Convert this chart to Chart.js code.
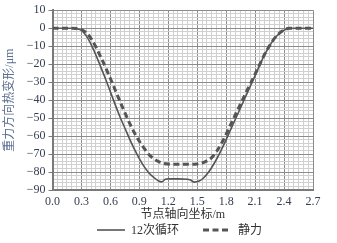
<!DOCTYPE html>
<html><head><meta charset="utf-8">
<script src="https://cdn.jsdelivr.net/npm/chart.js@4"></script>
<style>html,body{margin:0;padding:0;background:#fff}#wrap{width:337px;height:243px}</style>
</head><body><div id="wrap"><canvas id="c" width="337" height="243"></canvas></div>
<script>
const seriesNames = ['12次循环', '静力'];
const cycleX = [0,0.1,0.2,0.25,0.3,0.35,0.4,0.45,0.5,0.55,0.6,0.65,0.7,0.75,0.8,0.85,0.9,0.95,1.0,1.05,1.1,1.13,1.17,1.2,1.3,1.4,1.43,1.47,1.52,1.56,1.6,1.65,1.7,1.75,1.8,1.85,1.9,1.95,2.0,2.05,2.1,2.15,2.2,2.25,2.3,2.35,2.4,2.45,2.5,2.6,2.7];
const cycleY = [0,0,0,-0.3,-1.2,-4.3,-9,-15,-21.5,-28.3,-35.4,-42.5,-49.4,-55.5,-61.7,-67.4,-72.5,-77,-80.5,-83,-85,-85.5,-84,-83.8,-83.8,-84,-84.5,-85.6,-85,-83.6,-81.3,-77.5,-72.9,-67.7,-62,-56,-50.1,-44.2,-38.2,-32.3,-26.3,-20.3,-14.6,-9.9,-5.8,-3.0,-1.1,-0.2,0,0,0];
const staticX = [0,0.1,0.2,0.25,0.3,0.35,0.4,0.45,0.5,0.55,0.6,0.65,0.7,0.75,0.8,0.85,0.9,0.95,1.0,1.05,1.1,1.15,1.2,1.3,1.4,1.5,1.55,1.6,1.65,1.7,1.75,1.8,1.85,1.9,1.95,2.0,2.05,2.1,2.15,2.2,2.25,2.3,2.35,2.4,2.45,2.5,2.6,2.7];
const staticY = [0,0,0,-0.2,-0.8,-2.5,-5.8,-10.5,-16,-21.8,-28,-34.4,-40.8,-47,-52.9,-58.3,-62.9,-66.8,-70.3,-72.6,-74.2,-75.2,-75.6,-75.7,-75.7,-75.5,-75.0,-73.8,-72.0,-68.6,-64.2,-59.0,-53.2,-47.6,-42.0,-36.4,-31.0,-25.5,-19.9,-14.4,-9.7,-5.7,-2.9,-1.0,-0.1,0,0,0];
const xTickLabels = ['0.0','0.3','0.6','0.9','1.2','1.5','1.8','2.1','2.4','2.7'];
const yTickLabels = ['10','0','−10','−20','−30','−40','−50','−60','−70','−80','−90'];
const xTitle = '节点轴向坐标/m';
const yTitle = '重力方向热变形/μm';

const serif = "'Liberation Serif','Noto Sans CJK SC',serif";
const tickColor = '#353d50';
const majorGrid = '#8c8c8c', minorGrid = '#d0d0d0';

const pts = (xs, ys) => xs.map((x, i) => ({x, y: ys[i]}));
const xMin = 0, xMax = 2.7, yMin = -90, yMax = 10;
const isMajorX = v => Math.abs(Math.round(v * 100) % 30) === 0;
const isMajorY = v => Math.round(v) % 10 === 0;

const legendPlugin = {
  id: 'bottomLegend',
  afterDraw(chart) {
    const ctx = chart.ctx;
    const y = 230;
    const items = [{x0: 97, x1: 125, tx: 131}, {x0: 203, x1: 230, tx: 238}];
    chart.data.datasets.forEach((ds, i) => {
      const it = items[i];
      ctx.save();
      ctx.strokeStyle = ds.borderColor;
      ctx.lineWidth = ds.borderWidth;
      ctx.setLineDash(ds.borderDash || []);
      ctx.beginPath(); ctx.moveTo(it.x0, y); ctx.lineTo(it.x1, y); ctx.stroke();
      ctx.setLineDash([]);
      ctx.fillStyle = '#333';
      ctx.font = '12px ' + serif;
      ctx.textBaseline = 'middle';
      ctx.fillText(ds.label, it.tx, y + 1);
      ctx.restore();
    });
  }
};

new Chart(document.getElementById('c'), {
  type: 'line',
  data: {
    datasets: [
      {label: seriesNames[0], data: pts(cycleX, cycleY), borderColor: '#555', borderWidth: 1.6, pointRadius: 0, cubicInterpolationMode: 'monotone', fill: false},
      {label: seriesNames[1], data: pts(staticX, staticY), borderColor: '#555', borderWidth: 3, borderDash: [6, 3.5], pointRadius: 0, cubicInterpolationMode: 'monotone', fill: false}
    ]
  },
  options: {
    responsive: false, animation: false, devicePixelRatio: 1,
    layout: {padding: {left: 0, right: 24, top: 8, bottom: 21}},
    plugins: {legend: {display: false}, tooltip: {enabled: false}},
    scales: {
      x: {
        type: 'linear', min: xMin, max: xMax,
        afterBuildTicks(s) { const t = []; for (let i = 0; i <= 54; i++) t.push({value: i * 0.05}); s.ticks = t; },
        afterFit(s) { s.height = 32; },
        ticks: {autoSkip: false, maxRotation: 0, padding: 5, color: tickColor, font: {family: serif, size: 12},
          callback: v => isMajorX(v) ? xTickLabels[Math.round(v / 0.3)] : ''},
        grid: {drawTicks: false, lineWidth: 1, color: c => isMajorX(c.tick.value) ? majorGrid : minorGrid},
        border: {color: '#7a7a7a', width: 2},
        title: {display: true, text: xTitle, color: '#333', font: {family: serif, size: 12}, padding: {top: 0, bottom: 0}}
      },
      y: {
        type: 'linear', min: yMin, max: yMax,
        afterBuildTicks(s) { const t = []; for (let v = yMin; v <= yMax; v += 2) t.push({value: v}); s.ticks = t; },
        afterFit(s) { s.width = 52.5; },
        ticks: {autoSkip: false, padding: 3, color: tickColor, font: {family: serif, size: 12},
          callback: v => isMajorY(v) ? yTickLabels[Math.round((yMax - v) / 10)] : ''},
        grid: {drawTicks: true, tickLength: 4, lineWidth: 1,
          color: c => isMajorY(c.tick.value) ? majorGrid : minorGrid,
          tickColor: c => isMajorY(c.tick.value) ? '#7a7a7a' : 'rgba(0,0,0,0)'},
        border: {color: '#7a7a7a', width: 2},
        title: {display: true, text: yTitle, color: '#5c6f91', font: {family: serif, size: 12}, padding: {top: 3, bottom: 0}}
      }
    }
  },
  plugins: [legendPlugin]
});
</script></body></html>
